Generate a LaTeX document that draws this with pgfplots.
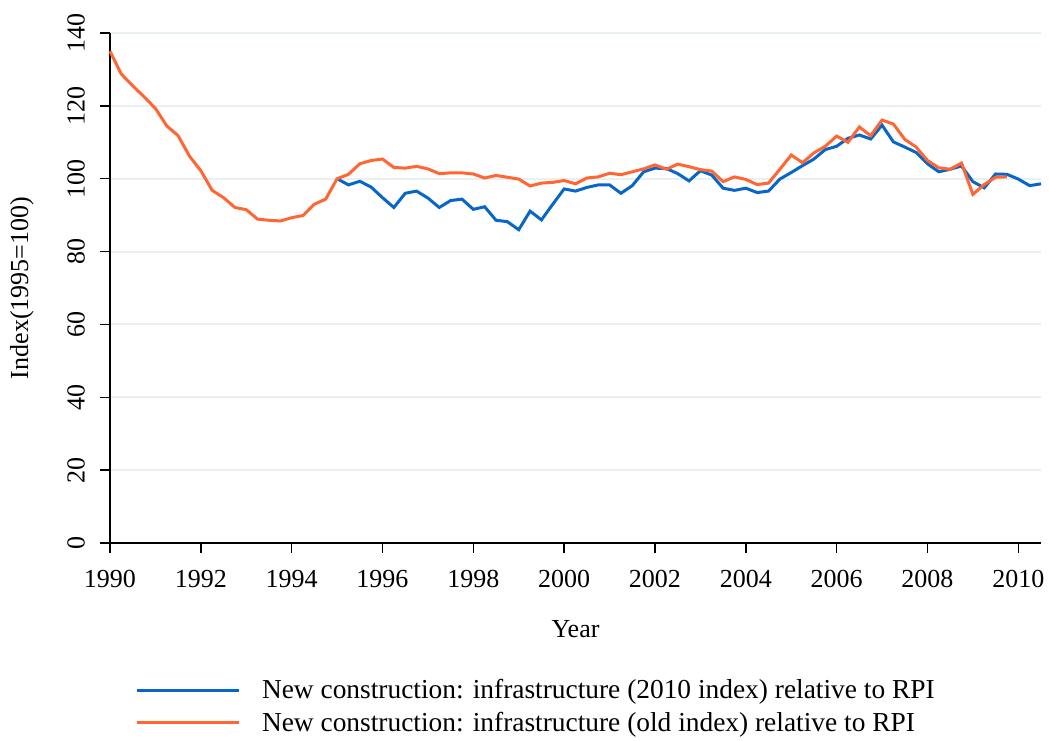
\documentclass[border=0pt]{standalone}
\usepackage{fontspec}
\setmainfont{Liberation Serif}
\usepackage{pgfplots}
\pgfplotsset{compat=1.18}
\definecolor{cblue}{RGB}{8,102,200}
\definecolor{corange}{RGB}{255,102,51}
\definecolor{cgrid}{RGB}{232,240,242}
\begin{document}
\begin{tikzpicture}[x=0.5pt,y=0.5pt]
\useasboundingbox (-110,-197) rectangle (939,543);
\begin{axis}[
  at={(0,0)}, anchor=south west,
  scale only axis, width=465.5pt, height=255pt,
  xmin=1990, xmax=2010.5, ymin=0, ymax=140,
  axis x line*=bottom, axis y line*=left,
  axis line style={line width=0.7pt},
  xtick={1990,1992,...,2010}, ytick={0,20,...,140},
  tick align=outside, major tick length=5pt,
  tick style={line width=0.7pt, black},
  ymajorgrids, grid style={cgrid, line width=1pt},
  /pgf/number format/assume math mode=true,
  /pgf/number format/1000 sep={},
  tick label style={font=\fontsize{13}{15}\selectfont},
  yticklabel style={xshift=-4pt, rotate=90, anchor=south},
  xticklabel style={yshift=-5pt},
  xlabel={Year}, ylabel={Index(1995=100)},
  label style={font=\fontsize{13}{15}\selectfont},
  xlabel style={yshift=-9.5pt},
  ylabel style={yshift=10pt},
  legend style={at={(0.02,-0.25)}, anchor=north west, draw=none,
    font=\fontsize{13.7}{15}\selectfont, row sep=1.3pt,
    cells={anchor=west}},
  legend image code/.code={\draw[#1] (0pt,0pt) -- (51pt,0pt); \path (60pt,0pt);},
  clip=false,
]
\addplot[cblue, line width=1.5pt] coordinates {
(1995,100)(1995.25,98.3)(1995.5,99.3)(1995.75,97.7)(1996,94.8)(1996.25,92.1)(1996.5,96.0)(1996.75,96.6)
(1997,94.7)(1997.25,92.1)(1997.5,94.0)(1997.75,94.4)(1998,91.6)(1998.25,92.3)(1998.5,88.6)(1998.75,88.2)
(1999,86.0)(1999.25,91.1)(1999.5,88.7)(1999.75,93.0)(2000,97.2)(2000.25,96.6)(2000.5,97.6)(2000.75,98.3)
(2001,98.3)(2001.25,96.0)(2001.5,98.1)(2001.75,101.9)(2002,102.9)(2002.25,102.8)(2002.5,101.4)(2002.75,99.4)
(2003,102.2)(2003.25,101.0)(2003.5,97.4)(2003.75,96.8)(2004,97.4)(2004.25,96.2)(2004.5,96.6)(2004.75,99.9)
(2005,101.7)(2005.25,103.6)(2005.5,105.4)(2005.75,108.0)(2006,108.9)(2006.25,111.1)(2006.5,112.0)(2006.75,110.9)
(2007,114.7)(2007.25,110.1)(2007.5,108.7)(2007.75,107.2)(2008,104.1)(2008.25,101.9)(2008.5,102.6)(2008.75,103.5)
(2009,99.2)(2009.25,97.5)(2009.5,101.3)(2009.75,101.2)(2010,99.9)(2010.25,98.1)(2010.5,98.6)
};
\addlegendentry{New construction: infrastructure (2010 index) relative to RPI}
\addplot[corange, line width=1.5pt] coordinates {
(1990,135.0)(1990.25,128.7)(1990.5,125.5)(1990.75,122.5)(1991,119.3)(1991.25,114.5)(1991.5,111.8)(1991.75,106.2)
(1992,102.2)(1992.25,96.8)(1992.5,94.8)(1992.75,92.1)(1993,91.5)(1993.25,88.9)(1993.5,88.6)(1993.75,88.4)
(1994,89.3)(1994.25,89.9)(1994.5,93.0)(1994.75,94.4)(1995,100.0)(1995.25,101.2)(1995.5,104.1)(1995.75,105.0)
(1996,105.4)(1996.25,103.1)(1996.5,102.9)(1996.75,103.4)(1997,102.7)(1997.25,101.4)(1997.5,101.6)(1997.75,101.6)
(1998,101.3)(1998.25,100.2)(1998.5,100.9)(1998.75,100.4)(1999,99.9)(1999.25,98.0)(1999.5,98.8)(1999.75,99.0)
(2000,99.5)(2000.25,98.6)(2000.5,100.2)(2000.75,100.5)(2001,101.5)(2001.25,101.1)(2001.5,101.9)(2001.75,102.7)
(2002,103.8)(2002.25,102.6)(2002.5,104.0)(2002.75,103.3)(2003,102.5)(2003.25,102.1)(2003.5,99.2)(2003.75,100.5)
(2004,99.8)(2004.25,98.4)(2004.5,98.8)(2004.75,102.6)(2005,106.5)(2005.25,104.4)(2005.5,107.1)(2005.75,108.9)
(2006,111.7)(2006.25,110.0)(2006.5,114.2)(2006.75,111.8)(2007,116.1)(2007.25,115.0)(2007.5,110.8)(2007.75,108.7)
(2008,105.0)(2008.25,103.0)(2008.5,102.6)(2008.75,104.3)(2009,95.7)(2009.25,98.4)(2009.5,100.4)(2009.75,100.5)
};
\addlegendentry{New construction: infrastructure (old index) relative to RPI}
\end{axis}
\end{tikzpicture}
\end{document}
